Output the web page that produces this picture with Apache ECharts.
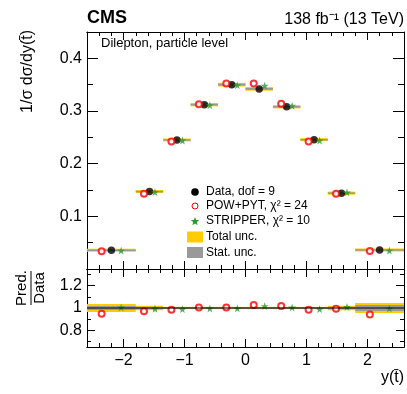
<!DOCTYPE html>
<html>
<head>
<meta charset="utf-8">
<script src="https://cdn.jsdelivr.net/npm/echarts@6/dist/echarts.min.js"></script>
<style>
  html, body { margin: 0; padding: 0; background: #fff; }
  #chart { width: 407px; height: 394px; }
</style>
</head>
<body>
<div id="chart"></div>
<script>
// bin edges in y(tbar)
const binLo = [-2.6, -1.8, -1.35, -0.9, -0.45, 0, 0.45, 0.9, 1.35, 1.8];
const binHi = [-1.8, -1.35, -0.9, -0.45, 0, 0.45, 0.9, 1.35, 1.8, 2.6];
// normalised cross section
const dataVal = [0.0355, 0.147, 0.245, 0.312, 0.350, 0.342, 0.308, 0.2455, 0.144, 0.036];
const powVal  = [0.0336, 0.143, 0.242, 0.313, 0.352, 0.352, 0.314, 0.242, 0.143, 0.034];
const strVal  = [0.035, 0.146, 0.244, 0.311, 0.349, 0.348, 0.310, 0.244, 0.1455, 0.035];
// relative uncertainties
const totUnc  = [0.035, 0.02, 0.01, 0.01, 0.01, 0.01, 0.01, 0.01, 0.02, 0.045];
const statUnc = [0.019, 0.01, 0.005, 0.005, 0.005, 0.005, 0.005, 0.005, 0.01, 0.027];
// ratio pred./data
const powRatio = [0.949, 0.970, 0.984, 1.005, 1.005, 1.026, 1.017, 0.984, 0.993, 0.942];
const strRatio = [1.005, 0.993, 0.990, 0.996, 0.997, 1.017, 1.005, 0.990, 1.010, 0.996];
// ticks
const xMajor = [-2, -1, 0, 1, 2];
const rMajor = [0.8, 1, 1.2];
const rMinor = [0.7, 0.9, 1.1, 1.3];

const FONT = '"Liberation Sans", Arial, sans-serif';
const YELLOW = '#ffcc00', GREY = '#999999', RED = '#ff0000', GREEN = '#2b9a2b';
const STAR = 'path://M50,0 L61,35 L98,35 L68,57 L79,91 L50,70 L21,91 L32,57 L2,35 L39,35 Z';

const center = i => (binLo[i] + binHi[i]) / 2;
const shift = i => 0.2 * (binHi[i] - binLo[i]);

function starPoints(cx, cy, r1, r2) {
  const pts = [];
  for (let k = 0; k < 10; k++) {
    const a = -Math.PI / 2 + k * Math.PI / 5;
    const r = k % 2 ? r2 : r1;
    pts.push([cx + r * Math.cos(a), cy + r * Math.sin(a)]);
  }
  return pts;
}

function band(vals, unc, ratio) {
  return binLo.map((lo, i) => {
    const v = ratio ? 1 : vals[i];
    return [lo, binHi[i], v * (1 - unc[i]), v * (1 + unc[i])];
  });
}
function bandSeries(data, color, xi, yi, minH) {
  return {
    type: 'custom', xAxisIndex: xi, yAxisIndex: yi, data: data, silent: true,
    encode: { x: [0, 1], y: [2, 3] },
    renderItem: (params, api) => {
      const p1 = api.coord([api.value(0), api.value(3)]);
      const p2 = api.coord([api.value(1), api.value(2)]);
      let h = p2[1] - p1[1], y = p1[1];
      if (h < minH) { y -= (minH - h) / 2; h = minH; }
      return { type: 'rect', shape: { x: p1[0], y: y, width: p2[0] - p1[0], height: h }, style: { fill: color } };
    }
  };
}

function xAx(grid, pos, major, labels) {
  const ax = {
    type: 'value', gridIndex: grid, position: pos, min: -2.6, max: 2.6,
    splitLine: { show: false },
    axisLine: { show: true, onZero: false, lineStyle: { color: '#000', width: 1 } },
    axisTick: major
      ? { show: true, inside: true, length: 8, customValues: xMajor, lineStyle: { color: '#000' } }
      : { show: true, inside: true, length: 4, lineStyle: { color: '#000' } },
    axisLabel: labels
      ? { show: true, customValues: xMajor, fontSize: 16, fontFamily: FONT, color: '#000', margin: 6,
          formatter: v => (v < 0 ? '\u2212' + Math.abs(v) : '' + v) }
      : { show: false }
  };
  if (!major) ax.interval = 0.2;
  return ax;
}

const chart = echarts.init(document.getElementById('chart'));
chart.setOption({
  animation: false,
  grid: [
    { left: 87, top: 32, width: 317, height: 237 },
    { left: 87, top: 269, width: 317, height: 78 }
  ],
  xAxis: [
    xAx(0, 'bottom', false, false), xAx(0, 'top', false, false),
    xAx(0, 'bottom', true, false), xAx(0, 'top', true, false),
    xAx(1, 'bottom', false, false), xAx(1, 'top', false, false),
    xAx(1, 'bottom', true, true), xAx(1, 'top', true, false)
  ],
  yAxis: [0, 1].map(k => ({
    type: 'value', gridIndex: 0, position: k ? 'right' : 'left', min: 0, max: 0.45, interval: 0.1,
    splitLine: { show: false },
    axisLine: { show: true, onZero: false, lineStyle: { color: '#000' } },
    axisTick: { show: true, inside: true, length: 11, lineStyle: { color: '#000' } },
    minorTick: { show: true, splitNumber: 2, length: 6, lineStyle: { color: '#000' } },
    axisLabel: { show: !k, fontSize: 16, fontFamily: FONT, color: '#000', margin: 5,
      showMaxLabel: false,
      formatter: v => (v < 0.05 || v > 0.42 ? '' : v.toFixed(1)) }
  })).concat([0, 1].flatMap(k => [
    {
      type: 'value', gridIndex: 1, position: k ? 'right' : 'left', min: 0.65, max: 1.35,
      splitLine: { show: false },
      axisLine: { show: true, onZero: false, lineStyle: { color: '#000' } },
      axisTick: { show: true, inside: true, length: 8, customValues: rMajor, lineStyle: { color: '#000' } },
      axisLabel: { show: !k, customValues: rMajor, fontSize: 16, fontFamily: FONT, color: '#000', margin: 5,
        formatter: v => (Math.abs(v - 1) < 1e-6 ? '1' : v.toFixed(1)) }
    },
    {
      type: 'value', gridIndex: 1, position: k ? 'right' : 'left', min: 0.65, max: 1.35,
      splitLine: { show: false },
      axisLine: { show: false, onZero: false },
      axisTick: { show: true, inside: true, length: 4, customValues: rMinor, lineStyle: { color: '#000' } },
      axisLabel: { show: false }
    }
  ])),
  series: [
    bandSeries(band(dataVal, totUnc, false), YELLOW, 0, 0, 3),
    bandSeries(band(dataVal, statUnc, false), GREY, 0, 0, 1.5),
    { type: 'scatter', xAxisIndex: 0, yAxisIndex: 0, symbol: 'circle', symbolSize: 7.5,
      itemStyle: { color: '#000' }, data: dataVal.map((v, i) => [center(i), v]) },
    { type: 'scatter', xAxisIndex: 0, yAxisIndex: 0, symbol: 'emptyCircle', symbolSize: 6,
      itemStyle: { color: RED, borderColor: RED, borderWidth: 1 }, data: powVal.map((v, i) => [center(i) - shift(i), v]) },
    { type: 'scatter', xAxisIndex: 0, yAxisIndex: 0, symbol: STAR, symbolSize: 8,
      itemStyle: { color: GREEN }, data: strVal.map((v, i) => [center(i) + shift(i), v]) },

    bandSeries(band(dataVal, totUnc, true), YELLOW, 4, 2, 2),
    bandSeries(band(dataVal, statUnc, true), GREY, 4, 2, 1.5),
    { type: 'line', xAxisIndex: 4, yAxisIndex: 2, symbol: 'none', silent: true,
      lineStyle: { color: '#000', width: 1 }, data: [[-2.6, 1], [2.6, 1]] },
    { type: 'scatter', xAxisIndex: 4, yAxisIndex: 2, symbol: 'emptyCircle', symbolSize: 6,
      itemStyle: { color: RED, borderColor: RED, borderWidth: 1 }, data: powRatio.map((v, i) => [center(i) - shift(i), v]) },
    { type: 'scatter', xAxisIndex: 4, yAxisIndex: 2, symbol: STAR, symbolSize: 8,
      itemStyle: { color: GREEN }, data: strRatio.map((v, i) => [center(i) + shift(i), v]) }
  ],
  graphic: [
    { type: 'text', x: 87, y: 27, style: { text: 'CMS', font: 'bold 18px ' + FONT, fill: '#000', verticalAlign: 'bottom' } },
    { type: 'text', x: 404, y: 28, style: { text: '138 fb\u207B\u00B9 (13 TeV)', font: '16px ' + FONT, fill: '#000', align: 'right', verticalAlign: 'bottom' } },
    { type: 'text', x: 101, y: 43, style: { text: 'Dilepton, particle level', font: '13px ' + FONT, fill: '#000', verticalAlign: 'middle' } },
    { type: 'text', x: 28, y: 30, rotation: Math.PI / 2,
      style: { text: '1/\u03C3 d\u03C3/dy(t\u0304)', font: '16px ' + FONT, fill: '#000', align: 'right', verticalAlign: 'middle' } },
    { type: 'text', x: 404, y: 378,
      style: { text: 'y(t\u0304)', font: '16px ' + FONT, fill: '#000', align: 'right', verticalAlign: 'middle' } },
    { type: 'group', x: 31, y: 288, rotation: Math.PI / 2, children: [
      { type: 'text', x: 0, y: -9, style: { text: 'Pred.', font: '15px ' + FONT, fill: '#000', align: 'center', verticalAlign: 'middle' } },
      { type: 'text', x: 0, y: 9, style: { text: 'Data', font: '15px ' + FONT, fill: '#000', align: 'center', verticalAlign: 'middle' } },
      { type: 'line', shape: { x1: -17, y1: 0, x2: 17, y2: 0 }, style: { stroke: '#000', lineWidth: 1 } }
    ] },
    // legend
    { type: 'circle', shape: { cx: 195, cy: 192, r: 3.8 }, style: { fill: '#000' } },
    { type: 'circle', shape: { cx: 195, cy: 206, r: 3 }, style: { fill: 'none', stroke: RED, lineWidth: 1 } },
    { type: 'polygon', shape: { points: starPoints(195, 221.5, 4.5, 1.9) }, style: { fill: GREEN } },
    { type: 'rect', shape: { x: 187, y: 231.5, width: 16, height: 11 }, style: { fill: YELLOW } },
    { type: 'rect', shape: { x: 187, y: 247, width: 16, height: 11 }, style: { fill: GREY } },
    { type: 'text', x: 206, y: 192, style: { text: 'Data, dof = 9', font: '12px ' + FONT, fill: '#000', verticalAlign: 'middle' } },
    { type: 'text', x: 206, y: 206, style: { text: 'POW+PYT, \u03C7\u00B2 = 24', font: '12px ' + FONT, fill: '#000', verticalAlign: 'middle' } },
    { type: 'text', x: 206, y: 221, style: { text: 'STRIPPER, \u03C7\u00B2 = 10', font: '12px ' + FONT, fill: '#000', verticalAlign: 'middle' } },
    { type: 'text', x: 206, y: 237, style: { text: 'Total unc.', font: '12px ' + FONT, fill: '#000', verticalAlign: 'middle' } },
    { type: 'text', x: 206, y: 252.5, style: { text: 'Stat. unc.', font: '12px ' + FONT, fill: '#000', verticalAlign: 'middle' } }
  ]
});
</script>
</body>
</html>
